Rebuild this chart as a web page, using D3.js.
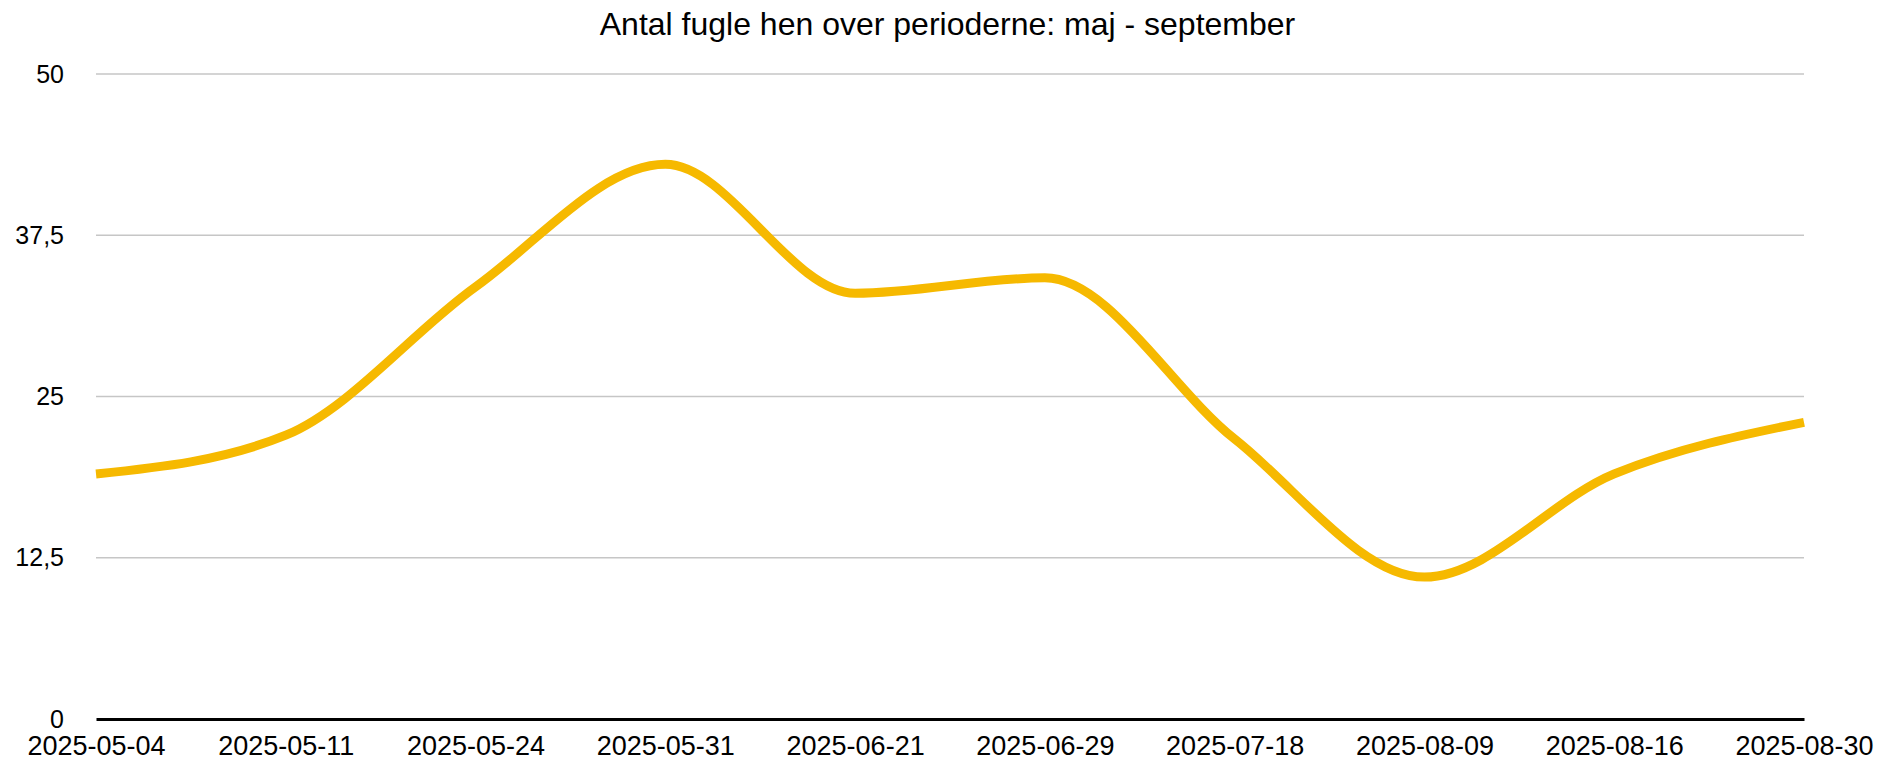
<!DOCTYPE html>
<html lang="da">

<head>
    <meta charset="UTF-8">
    <title>Antal fugle</title>
    <style>
        body {
            margin: 0;
            background: #fff;
        }

        text {
            font-family: "Liberation Sans", Arial, Helvetica, sans-serif;
            fill: #000;
        }
    </style>
    <script src="https://cdnjs.cloudflare.com/ajax/libs/d3/7.8.5/d3.min.js"></script>
</head>

<body>
    <div id="wrapper"></div>
<script>
const periods = ["2025-05-04", "2025-05-11", "2025-05-24", "2025-05-31", "2025-06-21",
    "2025-06-29", "2025-07-18", "2025-08-09", "2025-08-16", "2025-08-30"];
const birdCounts = [19, 22, 33.5, 43, 33, 34.2, 21.7, 11, 19, 23];
const yTicks = [0, 12.5, 25, 37.5, 50];
const chartTitle = "Antal fugle hen over perioderne: maj - september";

function drawChart() {
    let dimensions = {
        width: 1895,
        height: 763,
        margin: {
            top: 74,
            right: 91,
            bottom: 44,
            left: 96,
        },
    }
    dimensions.boundedWidth = dimensions.width
        - dimensions.margin.left
        - dimensions.margin.right
    dimensions.boundedHeight = dimensions.height
        - dimensions.margin.top
        - dimensions.margin.bottom

    const svg = d3.select("#wrapper")
        .append("svg")
        .attr("width", dimensions.width)
        .attr("height", dimensions.height);

    const bounds = svg.append("g")
        .attr("transform", `translate(${dimensions.margin.left},${dimensions.margin.top})`);

    const xScaler = d3.scalePoint()
        .domain(periods)
        .range([0, dimensions.boundedWidth])
        .padding(0);

    const yScaler = d3.scaleLinear()
        .domain([0, 50])
        .range([dimensions.boundedHeight, 0]);

    // gridlines
    bounds.append("g")
        .selectAll("line")
        .data(yTicks.filter(d => d > 0))
        .join("line")
        .attr("x1", 0)
        .attr("x2", dimensions.boundedWidth)
        .attr("y1", d => yScaler(d))
        .attr("y2", d => yScaler(d))
        .attr("stroke", "#c6c6c6")
        .attr("stroke-width", 1.5);

    // y labels
    const yAxis = bounds.append("g")
        .call(d3.axisLeft(yScaler)
            .tickValues(yTicks)
            .tickSize(0)
            .tickPadding(32)
            .tickFormat(d => String(d).replace(".", ",")));
    yAxis.select(".domain").remove();
    yAxis.selectAll("text")
        .style("font-size", "25px")
        .style("font-family", "'Liberation Sans', Arial, sans-serif")
        .attr("fill", "#000");

    // x axis
    const xAxis = bounds.append("g")
        .attr("transform", `translate(0,${dimensions.boundedHeight})`)
        .call(d3.axisBottom(xScaler).tickSize(0).tickPadding(17));
    xAxis.select(".domain")
        .attr("stroke", "#000")
        .attr("stroke-width", 3);
    xAxis.selectAll("text")
        .style("font-size", "27px")
        .style("font-family", "'Liberation Sans', Arial, sans-serif")
        .attr("fill", "#000");

    // the line
    const lineGen = d3.line()
        .x((d, i) => xScaler(periods[i]))
        .y(d => yScaler(d))
        .curve(d3.curveMonotoneX);

    bounds.append("path")
        .datum(birdCounts)
        .attr("fill", "none")
        .attr("stroke", "#f6b900")
        .attr("stroke-width", 9)
        .attr("d", lineGen);

    svg.append("text")
        .attr("x", dimensions.width / 2)
        .attr("y", 35)
        .attr("text-anchor", "middle")
        .style("font-size", "32px")
        .text(chartTitle);
}

drawChart()
</script>

</body>

</html>
